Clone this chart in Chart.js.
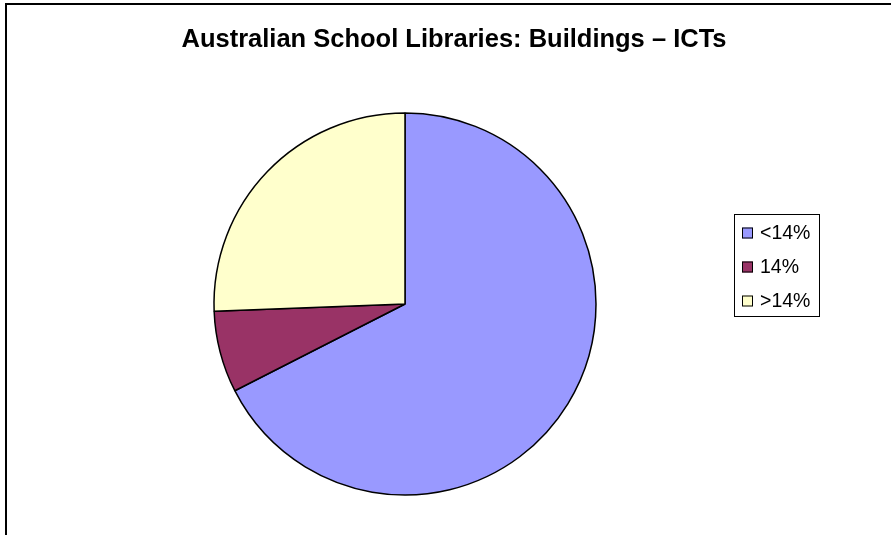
<!DOCTYPE html>
<html>
<head>
<meta charset="utf-8">
<script src="https://cdn.jsdelivr.net/npm/chart.js@4/dist/chart.umd.min.js"></script>
<style>
    html, body { margin: 0; padding: 0; background: #fff; }
    #wrap { width: 891px; height: 535px; }
</style>
</head>
<body>
<div id="wrap"><canvas id="grafico" width="891" height="535"></canvas></div>
<script>
const chartTitle = 'Australian School Libraries: Buildings \u2013 ICTs';
const categorias = ['<14%', '14%', '>14%'];
const valores = [67.5, 6.9, 25.6];
const cores = ['#9999FF', '#993366', '#FFFFCC'];

// moldura, titulo e legenda desenhados a mao (estilo Excel)
const excelExtras = {
    id: 'excelExtras',
    afterDraw(chart) {
        const ctx = chart.ctx;
        ctx.save();

        // moldura cortada (so esquerda e topo aparecem)
        ctx.strokeStyle = '#000';
        ctx.lineWidth = 2;
        ctx.beginPath();
        ctx.moveTo(6, 535);
        ctx.lineTo(6, 4);
        ctx.lineTo(891, 4);
        ctx.stroke();

        // titulo
        ctx.fillStyle = '#000';
        ctx.font = 'bold 25.5px "Liberation Sans", Arial, sans-serif';
        ctx.textAlign = 'center';
        ctx.textBaseline = 'alphabetic';
        ctx.fillText(chartTitle, 454, 47);

        // legenda
        ctx.lineWidth = 1;
        ctx.strokeRect(734.5, 214.5, 85, 102);
        ctx.font = '19.5px "Liberation Sans", Arial, sans-serif';
        ctx.textAlign = 'left';
        categorias.forEach((cat, i) => {
            const y = 233 + i * 34;
            ctx.fillStyle = cores[i];
            ctx.fillRect(742, y - 5.5, 11, 11);
            ctx.strokeStyle = '#000';
            ctx.strokeRect(742.5, y - 5, 10, 10);
            ctx.fillStyle = '#000';
            ctx.fillText(cat, 760, y + 5.5);
        });

        ctx.restore();
    }
};

const ctx = document.getElementById('grafico').getContext('2d');
new Chart(ctx, {
    type: 'pie',
    data: {
        labels: categorias,
        datasets: [{
            data: valores,
            backgroundColor: cores,
            borderColor: '#000',
            borderWidth: 1.5
        }]
    },
    options: {
        responsive: false,
        animation: false,
        radius: 191,
        layout: {
            padding: { left: 0, right: 81, top: 100, bottom: 27 }
        },
        plugins: {
            legend: { display: false },
            title: { display: false },
            tooltip: { enabled: false }
        }
    },
    plugins: [excelExtras]
});
</script>
</body>
</html>
